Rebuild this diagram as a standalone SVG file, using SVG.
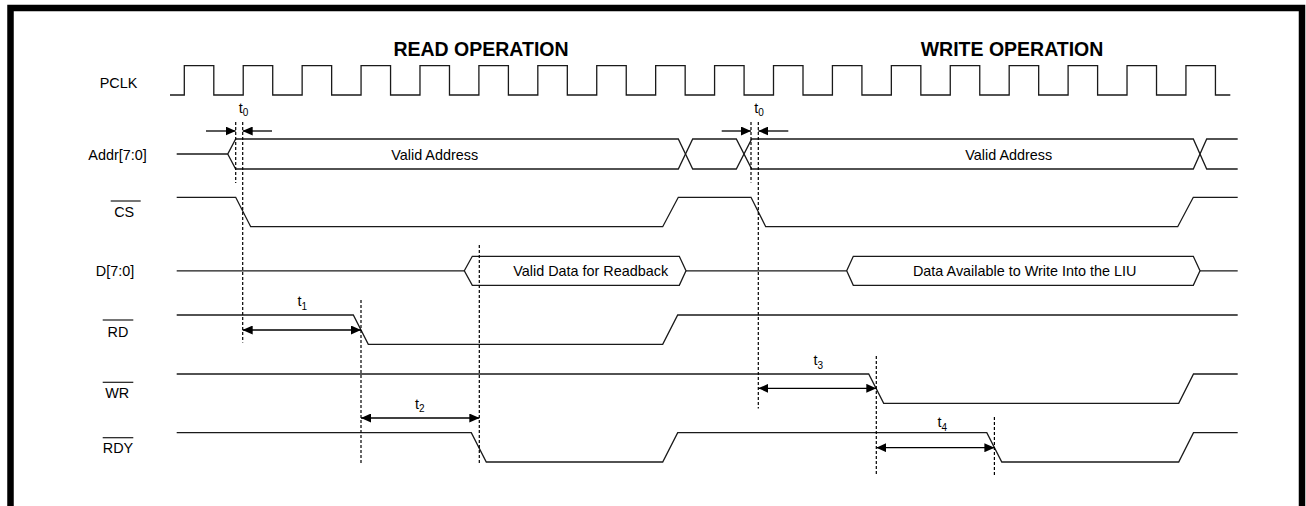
<svg xmlns="http://www.w3.org/2000/svg" width="1306" height="506" viewBox="0 0 1306 506">
<style>
.lbl{font-family:"Liberation Sans",Arial,sans-serif;font-size:14.4px;fill:#000}
.hd{font-family:"Liberation Sans",Arial,sans-serif;font-size:19.5px;font-weight:bold;fill:#000}
.sub{font-size:10px}
.w{fill:none;stroke:#1a1a1a;stroke-width:1.3;stroke-linejoin:miter}
.ov{stroke:#1a1a1a;stroke-width:1.2}
.dash{fill:none;stroke:#000;stroke-width:1.2;stroke-dasharray:3 2}
.arr{fill:none;stroke:#000;stroke-width:1.3}
</style>
<defs>
<marker id="ah" markerWidth="10" markerHeight="9" refX="10" refY="4.5" orient="auto-start-reverse" markerUnits="userSpaceOnUse">
<path d="M0,0 L10,4.5 L0,9 Z" fill="#000"/>
</marker>
</defs>
<rect width="1306" height="506" fill="#fff"/>
<path d="M10.5,506 V8 H1302 V506" fill="none" stroke="#000" stroke-width="6.5"/>

<g id="headings">
<text class="hd" x="481" y="56" text-anchor="middle">READ OPERATION</text>
<text class="hd" x="1012" y="56" text-anchor="middle">WRITE OPERATION</text>
</g>

<g id="pclk">
<text class="lbl" x="118.5" y="87.5" text-anchor="middle">PCLK</text>
<path class="w" d="M170,95 H184.3 V65.7 H213.8 V95 H243.22 V65.7 H272.72 V95 H302.14 V65.7 H331.64 V95 H361.06 V65.7 H390.56 V95 H419.98 V65.7 H449.48 V95 H478.9 V65.7 H508.4 V95 H537.82 V65.7 H567.32 V95 H596.74 V65.7 H626.24 V95 H655.66 V65.7 H685.16 V95 H714.58 V65.7 H744.08 V95 H773.5 V65.7 H803 V95 H832.42 V65.7 H861.92 V95 H891.34 V65.7 H920.84 V95 H950.26 V65.7 H979.76 V95 H1009.18 V65.7 H1038.68 V95 H1068.1 V65.7 H1097.6 V95 H1127.02 V65.7 H1156.52 V95 H1185.94 V65.7 H1215.44 V95 H1230.3"/>
</g>

<g id="addr">
<text class="lbl" x="117.5" y="160" text-anchor="middle">Addr[7:0]</text>
<path class="w" d="M176.7,154 H227.7 L235.7,139 H678.3 L692.7,169 H736.3 L751.7,139 H1193.3 L1206.7,169 H1237.7"/>
<path class="w" d="M227.7,154 L235.7,169 H678.3 L692.7,139 H736.3 L751.7,169 H1193.3 L1206.7,139 H1237.7"/>
<text class="lbl" x="434.7" y="160" text-anchor="middle">Valid Address</text>
<text class="lbl" x="1008.8" y="160" text-anchor="middle">Valid Address</text>
</g>

<g id="cs">
<text class="lbl" x="124.2" y="216.5" text-anchor="middle">CS</text>
<line class="ov" x1="110.7" y1="201" x2="140.7" y2="201"/>
<path class="w" d="M176.7,197.3 H235.7 L250.7,226.7 H662.7 L678.3,197.3 H751 L765.7,226.7 H1177.7 L1193.3,197.3 H1237.7"/>
</g>

<g id="data">
<text class="lbl" x="115" y="276" text-anchor="middle">D[7:0]</text>
<path class="w" d="M176.7,270.8 H464.3 M686,270.8 H846.7 M1200,270.8 H1237.7"/>
<path class="w" d="M464.3,270.8 L472.3,256.3 H679.3 L686,270.8 L679.3,285.3 H472.3 Z"/>
<path class="w" d="M846.7,270.8 L853.3,256.3 H1193.3 L1200,270.8 L1193.3,285.3 H853.3 Z"/>
<text class="lbl" x="590.7" y="275.8" text-anchor="middle">Valid Data for Readback</text>
<text class="lbl" x="1024.7" y="276.3" text-anchor="middle">Data Available to Write Into the LIU</text>
</g>

<g id="rd">
<text class="lbl" x="118" y="336.7" text-anchor="middle">RD</text>
<line class="ov" x1="102.7" y1="320" x2="133.3" y2="320"/>
<path class="w" d="M176.7,315 H353.3 L368.3,344.3 H662.7 L677.7,315 H1237.7"/>
</g>

<g id="wr">
<text class="lbl" x="117.2" y="398.3" text-anchor="middle">WR</text>
<line class="ov" x1="102.7" y1="382.3" x2="133.3" y2="382.3"/>
<path class="w" d="M176.7,374 H868.7 L883.7,403.3 H1178.7 L1193.5,374 H1237.7"/>
</g>

<g id="rdy">
<text class="lbl" x="118" y="452.5" text-anchor="middle">RDY</text>
<line class="ov" x1="102.7" y1="437.7" x2="133.3" y2="437.7"/>
<path class="w" d="M176.7,432.7 H471.3 L486.3,462 H662.7 L677.7,432.7 H986.8 L1001.8,462 H1178.7 L1193.5,432.7 H1237.7"/>
</g>

<g id="connectors">
<line class="dash" x1="235.7" y1="122" x2="235.7" y2="183"/>
<line class="dash" x1="242.7" y1="122" x2="242.7" y2="342.5"/>
<line class="dash" x1="751" y1="122" x2="751" y2="182.5"/>
<line class="dash" x1="758.3" y1="122" x2="758.3" y2="408.5"/>
<line class="dash" x1="361" y1="300" x2="361" y2="463"/>
<line class="dash" x1="479.3" y1="245" x2="479.3" y2="463.5"/>
<line class="dash" x1="876.3" y1="356" x2="876.3" y2="476"/>
<line class="dash" x1="994.4" y1="417" x2="994.4" y2="477"/>

<line class="arr" x1="206" y1="131" x2="235.7" y2="131" marker-end="url(#ah)"/>
<line class="arr" x1="272" y1="131" x2="242.7" y2="131" marker-end="url(#ah)"/>
<line class="arr" x1="721.7" y1="131" x2="751" y2="131" marker-end="url(#ah)"/>
<line class="arr" x1="788.3" y1="131" x2="758.3" y2="131" marker-end="url(#ah)"/>

<line class="arr" x1="242.7" y1="330" x2="361" y2="330" marker-start="url(#ah)" marker-end="url(#ah)"/>
<line class="arr" x1="361" y1="418" x2="479.3" y2="418" marker-start="url(#ah)" marker-end="url(#ah)"/>
<line class="arr" x1="758.3" y1="388.3" x2="876.3" y2="388.3" marker-start="url(#ah)" marker-end="url(#ah)"/>
<line class="arr" x1="876.3" y1="447.7" x2="994.4" y2="447.7" marker-start="url(#ah)" marker-end="url(#ah)"/>

<text class="lbl" x="238.8" y="112.5">t<tspan class="sub" dy="3.5">0</tspan></text>
<text class="lbl" x="754.3" y="112.5">t<tspan class="sub" dy="3.5">0</tspan></text>
<text class="lbl" x="297.5" y="306">t<tspan class="sub" dy="3.5">1</tspan></text>
<text class="lbl" x="415" y="408.5">t<tspan class="sub" dy="3">2</tspan></text>
<text class="lbl" x="813.6" y="365">t<tspan class="sub" dy="3.5">3</tspan></text>
<text class="lbl" x="937.6" y="427">t<tspan class="sub" dy="3.5">4</tspan></text>
</g>
</svg>
